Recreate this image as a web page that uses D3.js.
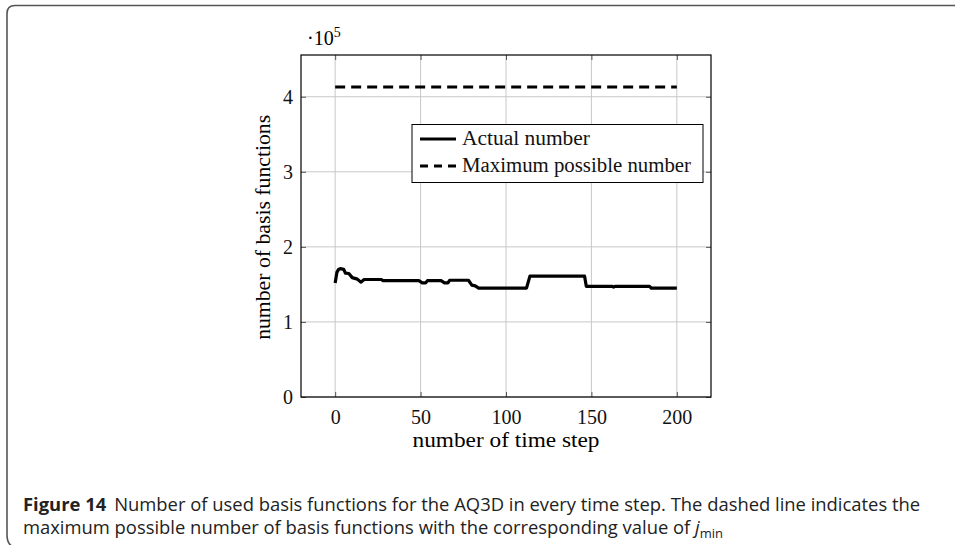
<!DOCTYPE html>
<html>
<head>
<meta charset="utf-8">
<script src="https://cdn.jsdelivr.net/npm/d3@7"></script>
<style>
  body { margin: 0; background: #fff; }
  svg { display: block; }
  .serif { font-family: "Liberation Serif", "DejaVu Serif", serif; fill: #000; }
  .caption { font-family: "Open Sans", "Noto Sans", sans-serif; fill: #222; }
</style>
</head>
<body>
<div class="container"></div>
<script>
var width = 955;
var height = 545;
var margin = { top: 55, left: 301, right: 244, bottom: 148 };

// time step of each point, and number of used basis functions there
var timeSteps = [0, 1, 2, 3, 5, 6, 8, 10, 13, 15, 17, 27, 28, 49, 51, 53, 54, 62, 64, 66, 67, 78, 80, 82, 84, 112, 114, 146, 147, 162, 163, 164, 184, 185, 200];
var actualNumber = [152000, 166000, 170000, 171000, 170000, 165000, 164500, 159000, 157000, 153000, 156500, 156500, 155000, 155000, 152000, 152000, 155000, 155000, 152000, 152000, 155500, 155500, 149000, 148000, 145000, 145000, 161000, 161000, 147500, 147500, 146500, 147500, 147500, 145000, 145000];
// maximum possible number (constant)
var maxSteps = [0, 200];
var maxNumber = [413000, 413000];

var xTicks = [0, 50, 100, 150, 200];
var yTicks = [0, 1, 2, 3, 4];
var legendLabels = ["Actual number", "Maximum possible number"];

var svg = d3.select(".container").append("svg")
  .attr("width", width)
  .attr("height", height);

// outer figure frame with rounded corners
svg.append("path")
  .attr("d", "M 963 5.5 L 15 5.5 Q 7 5.5 7 13.5 L 7 535 Q 7 545 15 548")
  .style("fill", "none")
  .style("stroke", "#555")
  .style("stroke-width", 1.6);

var x = d3.scaleLinear().domain([-20, 220]).range([margin.left, width - margin.right]);
var y = d3.scaleLinear().domain([0, 4.556]).range([height - margin.bottom, margin.top]);

var plot = svg.append("g");

// grid
plot.selectAll("line.gx").data(xTicks).enter().append("line")
  .attr("x1", d => x(d)).attr("x2", d => x(d))
  .attr("y1", y.range()[0]).attr("y2", y.range()[1])
  .style("stroke", "#c8c8c8").style("stroke-width", 1);
plot.selectAll("line.gy").data(yTicks).enter().append("line")
  .attr("y1", d => y(d)).attr("y2", d => y(d))
  .attr("x1", x.range()[0]).attr("x2", x.range()[1])
  .style("stroke", "#c8c8c8").style("stroke-width", 1);

// axes, ticks pointing inward on all four sides
var tickLen = 5;
var fmt = d3.format("d");
var axB = d3.axisBottom(x).tickValues(xTicks).tickSize(-tickLen).tickPadding(13).tickFormat(fmt);
var axT = d3.axisTop(x).tickValues(xTicks).tickSize(-tickLen).tickFormat("");
var axL = d3.axisLeft(y).tickValues(yTicks).tickSize(-tickLen).tickPadding(8).tickFormat(fmt);
var axR = d3.axisRight(y).tickValues(yTicks).tickSize(-tickLen).tickFormat("");

function styleAxis(g) {
  g.select(".domain").remove();
  g.selectAll(".tick line").style("stroke", "#555").style("stroke-width", 1);
  g.selectAll(".tick text").attr("class", "serif").style("font-size", "20px").style("fill", "#111");
}
plot.append("g").attr("transform", "translate(0," + y.range()[0] + ")").call(axB).call(styleAxis);
plot.append("g").attr("transform", "translate(0," + y.range()[1] + ")").call(axT).call(styleAxis);
plot.append("g").attr("transform", "translate(" + x.range()[0] + ",0)").call(axL).call(styleAxis);
plot.append("g").attr("transform", "translate(" + x.range()[1] + ",0)").call(axR).call(styleAxis);

// data lines
var actualData = timeSteps.map((t, i) => ({ x: t, y: actualNumber[i] / 1e5 }));
var maxData = maxSteps.map((t, i) => ({ x: t, y: maxNumber[i] / 1e5 }));
var line = d3.line().x(d => x(d.x)).y(d => y(d.y));

plot.append("path").datum(maxData)
  .attr("d", line)
  .style("fill", "none").style("stroke", "#000").style("stroke-width", 3)
  .style("stroke-dasharray", "10,6");
plot.append("path").datum(actualData)
  .attr("d", line)
  .style("fill", "none").style("stroke", "#000").style("stroke-width", 3.2)
  .style("stroke-linejoin", "round");

// frame
plot.append("rect")
  .attr("x", x.range()[0]).attr("y", y.range()[1])
  .attr("width", x.range()[1] - x.range()[0])
  .attr("height", y.range()[0] - y.range()[1])
  .style("fill", "none").style("stroke", "#000").style("stroke-width", 1.2);

// scale factor label
var sf = svg.append("text").attr("class", "serif").attr("x", 307).attr("y", 45).style("font-size", "20px");
sf.append("tspan").text("\u00b710");
sf.append("tspan").attr("dy", -8).style("font-size", "14px").text("5");

// axis labels
svg.append("text").attr("class", "serif")
  .attr("x", x(100)).attr("y", 447)
  .style("text-anchor", "middle").style("font-size", "20px")
  .attr("textLength", 187).attr("lengthAdjust", "spacingAndGlyphs")
  .text("number of time step");
svg.append("text").attr("class", "serif")
  .attr("transform", "translate(270," + y(2.26) + ") rotate(-90)")
  .style("text-anchor", "middle").style("font-size", "20px")
  .attr("textLength", 225).attr("lengthAdjust", "spacingAndGlyphs")
  .text("number of basis functions");

// legend
var leg = svg.append("g").attr("transform", "translate(412,124.5)");
leg.append("rect").attr("width", 291).attr("height", 58)
  .style("fill", "#fff").style("stroke", "#000").style("stroke-width", 1);
legendLabels.forEach(function (lab, i) {
  var ly = 14.5 + i * 27;
  leg.append("line").attr("x1", 8).attr("x2", 44).attr("y1", ly).attr("y2", ly)
    .style("stroke", "#000").style("stroke-width", 3)
    .style("stroke-dasharray", i === 1 ? "8,6" : null);
  leg.append("text").attr("class", "serif")
    .attr("x", 50).attr("y", ly + 6)
    .style("font-size", "20px").style("fill", "#111")
    .attr("textLength", i === 0 ? 128 : 229).attr("lengthAdjust", "spacingAndGlyphs")
    .text(lab);
});

// caption
var c1 = svg.append("text").attr("class", "caption").attr("x", 23).attr("y", 511).style("font-size", "18.4px");
c1.append("tspan").style("font-weight", "bold").text("Figure 14");
c1.append("tspan").attr("dx", 8).text("Number of used basis functions for the AQ3D in every time step. The dashed line indicates the");
var c2 = svg.append("text").attr("class", "caption").attr("x", 23).attr("y", 534).style("font-size", "18.4px");
c2.append("tspan").text("maximum possible number of basis functions with the corresponding value of ");
c2.append("tspan").style("font-style", "italic").text("j");
c2.append("tspan").attr("dy", 4).style("font-size", "13px").text("min");
</script>
</body>
</html>
